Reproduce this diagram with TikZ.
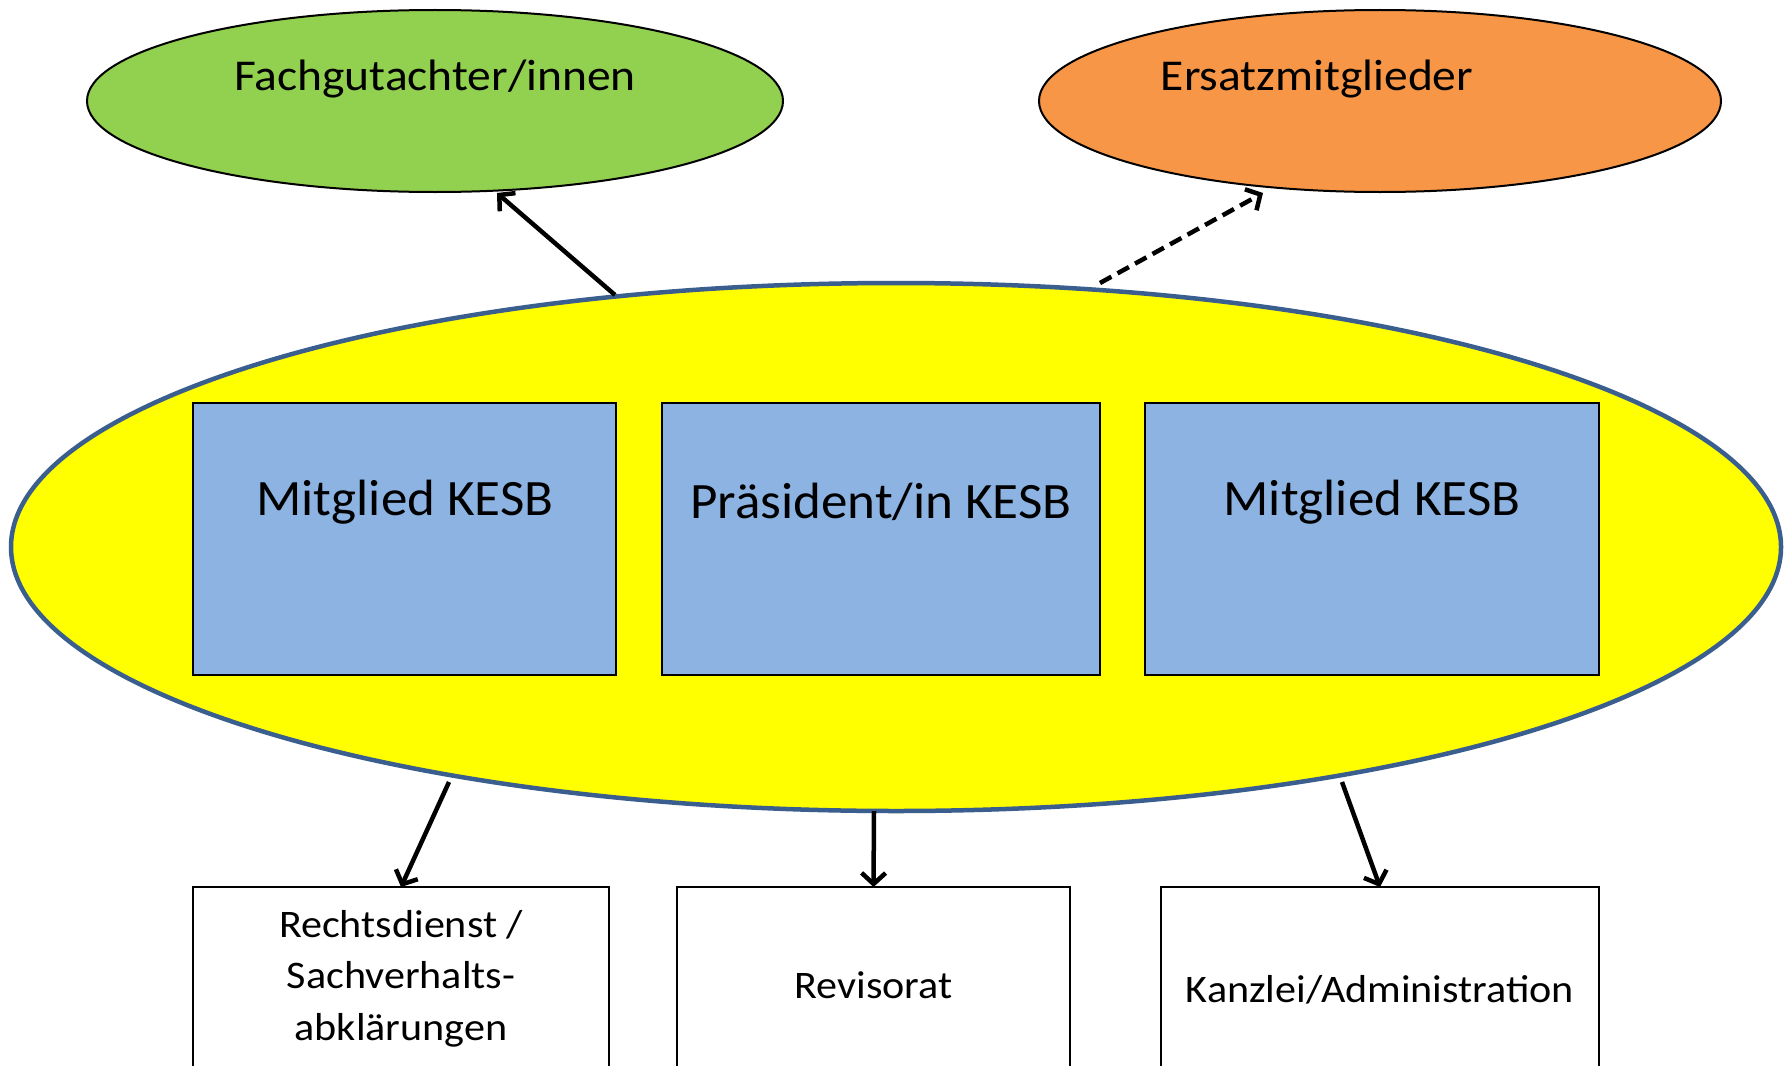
\documentclass[tikz,border=0pt]{standalone}
\usepackage{fontspec}
\setmainfont{Carlito}
\newfontfamily\topfont[FakeStretch=1.08]{Carlito}
\newfontfamily\memfont[FakeStretch=1.04]{Carlito}
\newfontfamily\botfont[FakeStretch=1.08]{Carlito}
\usetikzlibrary{shapes.geometric,arrows.meta}
\definecolor{gruen}{HTML}{92D050}
\definecolor{orangefill}{HTML}{F79646}
\definecolor{gelb}{HTML}{FFFF00}
\definecolor{blaubox}{HTML}{8DB3E2}
\definecolor{randblau}{HTML}{3A5F8F}
\tikzset{
  oval/.style={ellipse, draw=black, line width=2pt, inner sep=0pt, outer sep=0pt},
  member/.style={rectangle, draw=black, fill=blaubox, line width=2pt, inner sep=0pt, outer sep=0pt},
  unit/.style={rectangle, draw=black, fill=white, line width=2pt, inner sep=0pt, outer sep=0pt},
  lbl/.style={anchor=base, inner sep=0pt},
  toplbl/.style={lbl, font=\topfont\fontsize{44}{52}\selectfont},
  memlbl/.style={lbl, font=\memfont\fontsize{51}{60}\selectfont},
  botlbl/.style={lbl, align=center, font=\botfont\fontsize{39}{51.5}\selectfont},
  arr/.style={line width=4.5pt, line join=round, -{Straight Barb[length=11pt,width=24pt]}},
  darr/.style={arr, dash pattern=on 13pt off 7pt}
}
\begin{document}
\begin{tikzpicture}[x=1pt,y=-1pt]
\clip (0,0) rectangle (1787,1065);
\fill[white] (0,0) rectangle (1787,1065);
% top ellipses
\node[oval, fill=gruen, minimum width=696pt, minimum height=182pt] (fach) at (435,101) {};
\node[toplbl] (fachtxt) at (435,90) {Fachgutachter/innen};
\node[oval, fill=orangefill, minimum width=682pt, minimum height=182pt] (ersatz) at (1380,101) {};
\node[toplbl] (ersatztxt) at (1317,90) {Ersatzmitglieder};
% main ellipse
\node[ellipse, draw=randblau, fill=gelb, line width=4.5pt, inner sep=0pt, outer sep=0pt,
      minimum width=1770pt, minimum height=528pt] (kesb) at (896,547) {};
% member boxes
\node[member, minimum width=423pt, minimum height=272pt] (m1) at (404.5,539) {};
\node[memlbl] (m1txt) at (405,515) {Mitglied KESB};
\node[member, minimum width=438pt, minimum height=272pt] (pr) at (881,539) {};
\node[memlbl] (prtxt) at (881,518) {Präsident/in KESB};
\node[member, minimum width=454pt, minimum height=272pt] (m2) at (1372,539) {};
\node[memlbl] (m2txt) at (1372,515) {Mitglied KESB};
% bottom boxes
\node[unit, minimum width=416pt, minimum height=213pt] (rd) at (401,993.5) {};
\node[botlbl] (rdtxt) at (401,1040) {Rechtsdienst /\\Sachverhalts-\\abklärungen};
\node[unit, minimum width=393pt, minimum height=213pt] (rev) at (873.5,993.5) {};
\node[botlbl] (revtxt) at (873.5,998) {Revisorat};
\node[unit, minimum width=438pt, minimum height=213pt] (kanz) at (1380,993.5) {};
\node[botlbl] (kanztxt) at (1380,1002) {Kanzlei/Administration};
% connectors
\draw[arr] ([shift={(-281,-252)}]kesb.center) -- ([shift={(62,92)}]fach.center);
\draw[darr] ([shift={(204,-264)}]kesb.center) -- ([shift={(-117,92)}]ersatz.center);
\draw[arr] ([shift={(-447,235)}]kesb.center) -- (rd.north);
\draw[arr] ([shift={(-22,264)}]kesb.center) -- (rev.north);
\draw[arr] ([shift={(446,235)}]kesb.center) -- (kanz.north);
\end{tikzpicture}
\end{document}
